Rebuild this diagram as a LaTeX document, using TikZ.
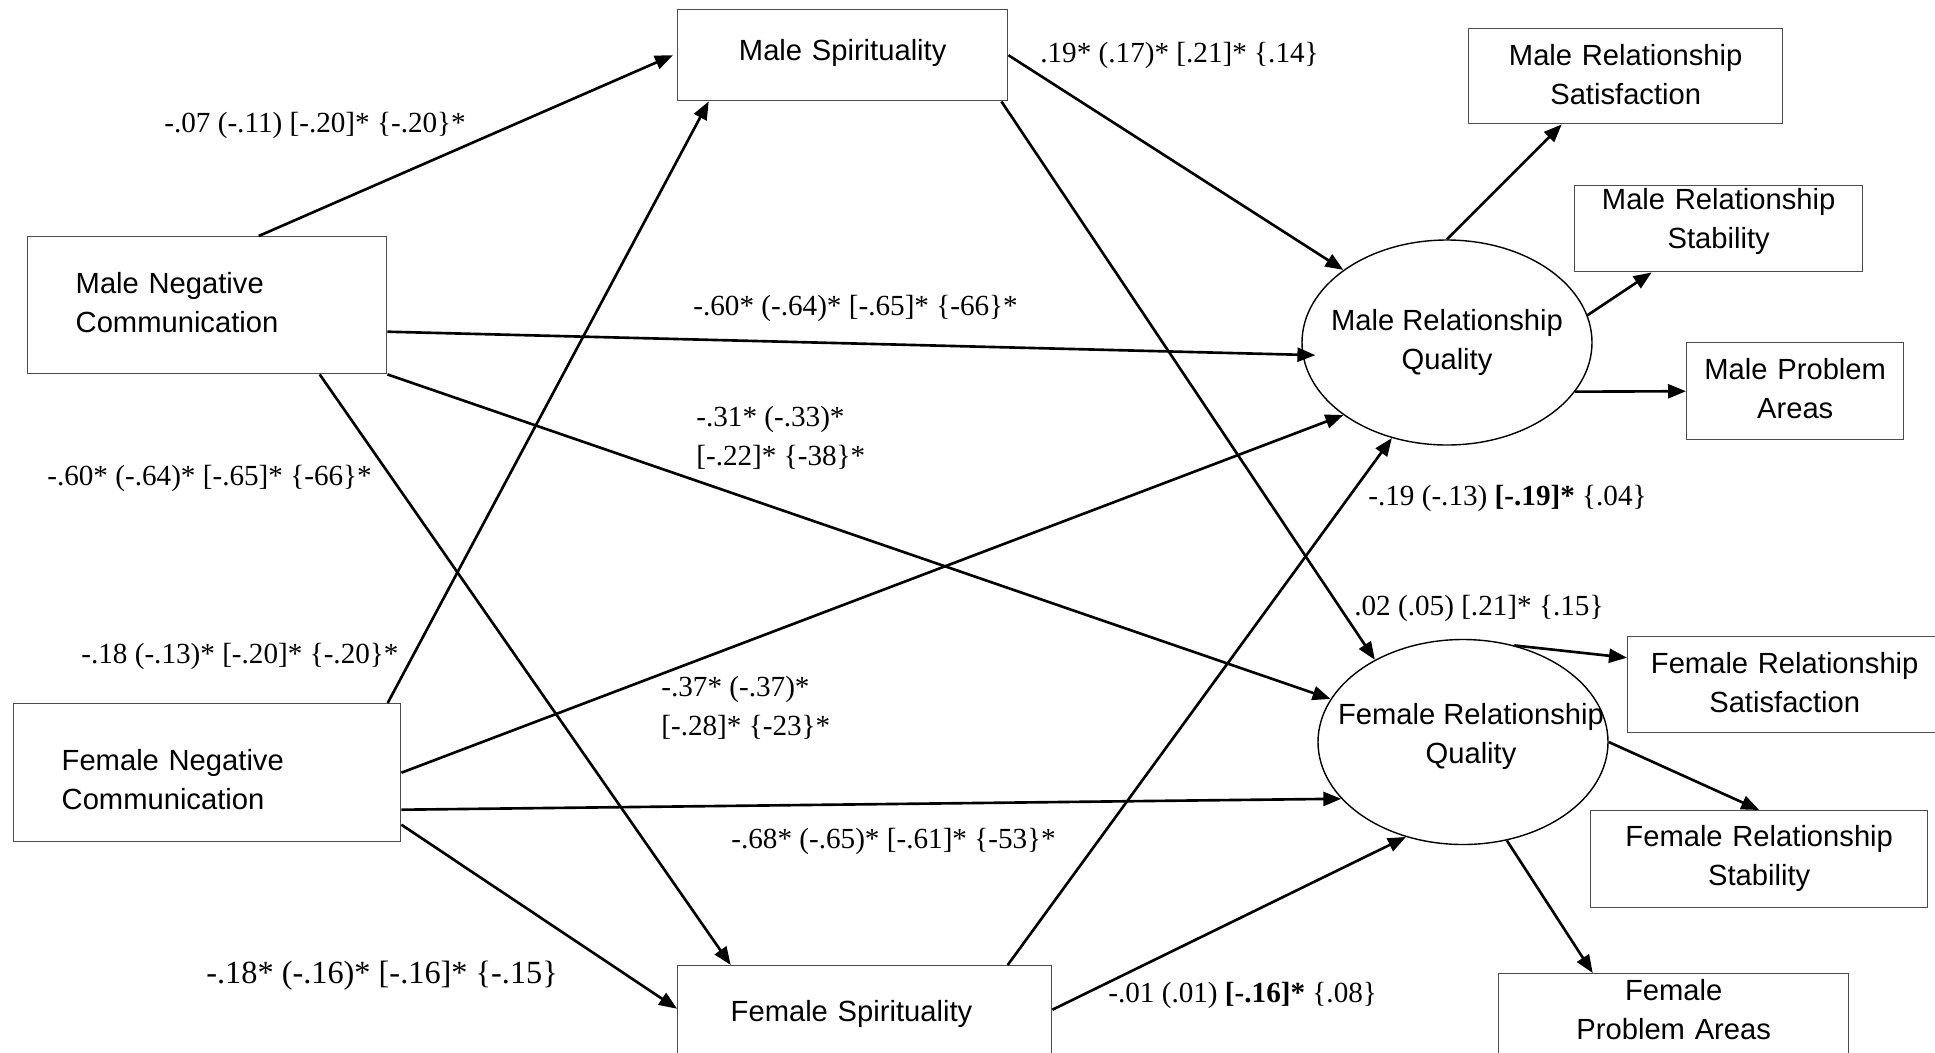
\documentclass[tikz,border=0pt]{standalone}
\usepackage{fontspec}
\setmainfont{Liberation Serif}
\setsansfont{Liberation Sans}
\usepackage{tikz}
\usetikzlibrary{positioning,shapes,arrows.meta,calc}
\newcommand{\pathfont}{\fontsize{8.3}{11.1}\selectfont}
\tikzstyle{obs}=[%
      rectangle, draw=black!70, line width=0.4pt, fill=none, anchor=north west,
      font=\sffamily\pathfont, inner ysep=0pt, inner xsep=0pt, align=center
]
\tikzstyle{lat}=[%
      ellipse, draw=black, line width=0.4pt, fill=none,
      minimum width=29mm, minimum height=20.5mm, inner sep=0pt
]
\tikzstyle{lab}=[%
      font=\sffamily\pathfont, align=center, inner sep=0pt
]
\tikzstyle{est}=[%
      anchor=west, inner sep=0pt, align=left, font=\pathfont
]

\begin{document}
\begin{tikzpicture}[x=0.1mm, y=-0.1mm,
    line width=0.75pt,
    -{Triangle[length=1.8mm,width=1.4mm]}
  ]
    \useasboundingbox (0,0) rectangle (1935,1052);

    % predictors
    \node[obs, align=left, inner xsep=4.8mm, text width=26.3mm, text height=5.67mm, text depth=8.03mm] (MNC) at (27,236) {Male Negative\\Communication};
    \node[obs, align=left, inner xsep=4.8mm, text width=29.1mm, text height=6.64mm, text depth=7.16mm] (FNC) at (13,703) {Female Negative\\Communication};
    \node[obs, text width=33mm, text height=5.1mm, text depth=4mm] (MS) at (677,9) {Male Spirituality};
    \node[obs, align=left, inner xsep=5.3mm, text width=26.8mm, text height=5.6mm, text depth=6mm] (FS) at (677,965) {Female Spirituality};

    % latent outcomes
    \node[lat, label={[lab]center:Male Relationship\\Quality}] (MRQ) at (1447,342.5) {};
    \node[lat, label={[lab, xshift=0.8mm, yshift=0.6mm]center:Female Relationship\\Quality}] (FRQ) at (1463,742) {};

    % indicators
    \node[obs, text width=31.4mm, text height=3.7mm, text depth=5.8mm] (MRS) at (1468,28) {Male Relationship\\Satisfaction};
    \node[obs, text width=28.8mm, text height=2.33mm, text depth=6.27mm] (MRB) at (1574,185) {Male Relationship\\Stability};
    \node[obs, text width=21.7mm, text height=3.63mm, text depth=6.07mm] (MPA) at (1686,342) {Male Problem\\Areas};
    \node[obs, text width=31.4mm, text height=3.67mm, text depth=5.93mm] (FRS) at (1627,636) {Female Relationship\\Satisfaction};
    \node[obs, text width=33.7mm, text height=3.58mm, text depth=6.12mm] (FRB) at (1590,810) {Female Relationship\\Stability};
    \node[obs, text width=35mm, text height=2.7mm, text depth=8mm] (FPA) at (1498,973) {Female\\Problem Areas};

    \draw ($(MNC.north)+(51.5,0)$) -- ($(MS.west)+(-4,0)$);
    \draw ($(MNC.east)+(0,26.5)$) -- ($(MRQ.185)+(13,0)$);
    \draw (MNC.south east) -- (FRQ.162);
    \draw ($(MNC.south)+(112.5,0)$) -- ($(FS.north)+(-134,0)$);

    \draw ($(FNC.north)+(180.5,0)$) -- ($(MS.south)+(-134,0)$);
    \draw (FNC.east) -- (MRQ.215);
    \draw ($(FNC.east)+(0,37)$) -- (FRQ.205);
    \draw ($(FNC.east)+(0,52)$) -- ($(FS.west)+(0,-15)$);

    \draw (MS.east) -- (MRQ.145);
    \draw ($(MS.south east)+(-7,0)$) -- (FRQ.137);
    \draw ($(FS.north)+(143,0)$) -- (MRQ.240);
    \draw ($(FS.east)+(0,-14)$) -- (FRQ.239);

    \draw (MRQ.north) -- ($(MRS.south)+(-64,0)$);
    \draw (MRQ.11) -- ($(MRB.south)+(-67,0)$);
    \draw (MRQ.339) -- (MPA.west);
    \draw (FRQ.62) -- ($(FRS.west)+(0,-27)$);
    \draw (FRQ.east) -- (FRB.north);
    \draw (FRQ.294) -- ($(FPA.north)+(-81,0)$);

    % path estimates
    \node[est] (k1) at (163,125) {-.07 (-.11) [-.20]* \{-.20\}*};
    \node[est] (k2) at (692,308) {-.60* (-.64)* [-.65]* \{-66\}*};
    \node[est] (k3) at (695,437.5) {-.31* (-.33)*\\{[}-.22]* \{-38\}*};
    \node[est] (k4) at (46,478) {-.60* (-.64)* [-.65]* \{-66\}*};
    \node[est] (k5) at (1039,55) {.19* (.17)* [.21]* \{.14\}};
    \node[est] (k6) at (1367,498) {-.19 (-.13) \textbf{[-.19]*} \{.04\}};
    \node[est] (k7) at (80,656) {-.18 (-.13)* [-.20]* \{-.20\}*};
    \node[est] (k8) at (660,707.5) {-.37* (-.37)*\\{[}-.28]* \{-23\}*};
    \node[est] (k9) at (730,841) {-.68* (-.65)* [-.61]* \{-53\}*};
    \node[est, font=\fontsize{9.2}{12}\selectfont] (k10) at (205,976) {-.18* (-.16)* [-.16]* \{-.15\}};
    \node[est] (k11) at (1353,608) {.02 (.05) [.21]* \{.15\}};
    \node[est] (k12) at (1107,995) {-.01 (.01) \textbf{[-.16]*} \{.08\}};

  \end{tikzpicture}
\end{document}
